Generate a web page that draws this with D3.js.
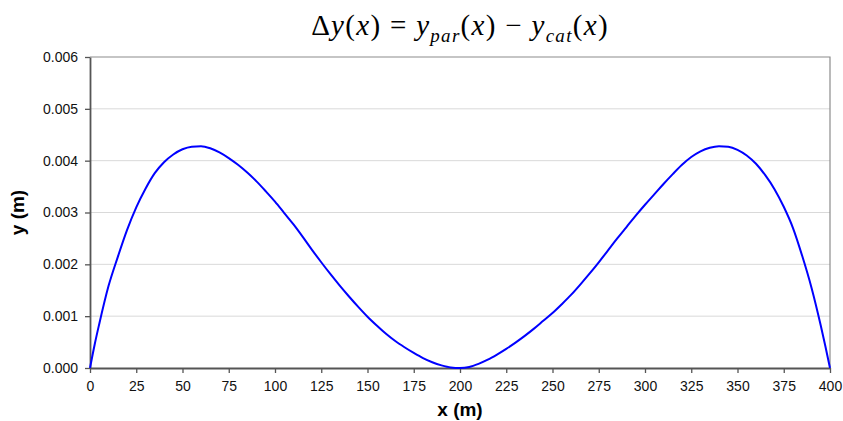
<!DOCTYPE html>
<html>
<head>
<meta charset="utf-8">
<script src="https://cdn.jsdelivr.net/npm/d3@7"></script>
<style>
  html, body { margin: 0; padding: 0; background: #fff; }
  svg { display: block; }
</style>
</head>
<body>
<svg id="chart" width="843" height="421"></svg>
<script>
// Distance along the span (m)
const xValues = [0, 2.5, 5, 10, 15, 20, 25, 30, 35, 40, 45, 50, 55, 60, 65, 70, 75, 80, 85, 90, 95,
  100, 105, 110, 115, 120, 125, 130, 135, 140, 145, 150, 155, 160, 165, 170, 175, 180, 185, 190, 195,
  200, 205, 210, 215, 220, 225, 230, 235, 240, 245, 250, 255, 260, 265, 270, 275, 280, 285, 290, 295,
  300, 305, 310, 315, 320, 325, 330, 335, 340, 345, 350, 355, 360, 365, 370, 375, 380, 385, 390, 395,
  397.5, 400];
// Difference parabola − catenary (m)
const dyValues = [0, 0.00045, 0.00085, 0.00158, 0.00214, 0.00266, 0.00310, 0.00346, 0.00376, 0.00397, 0.00412,
  0.00422, 0.00427, 0.00428, 0.00424, 0.00416, 0.00405, 0.00392, 0.00377, 0.00360, 0.00341,
  0.00321, 0.00299, 0.00277, 0.00253, 0.00228, 0.00204, 0.00181, 0.00159, 0.00138, 0.00118,
  0.00099, 0.00082, 0.00066, 0.00052, 0.00040, 0.00029, 0.00019, 0.00011, 0.00005, 0.00001,
  0.00000, 0.00002, 0.00008, 0.00016, 0.00026, 0.00037, 0.00049, 0.00062, 0.00076, 0.00091,
  0.00106, 0.00123, 0.00141, 0.00161, 0.00182, 0.00204, 0.00227, 0.00250, 0.00272, 0.00294,
  0.00315, 0.00335, 0.00355, 0.00374, 0.00392, 0.00407, 0.00418, 0.00425, 0.00428, 0.00427,
  0.00421, 0.00410, 0.00394, 0.00372, 0.00345, 0.00311, 0.00270, 0.00216, 0.00155, 0.00082,
  0.00042, 0];
const xTicks = d3.range(0, 401, 25);
const yTicks = [0, 0.001, 0.002, 0.003, 0.004, 0.005, 0.006];

const svg = d3.select("#chart");
const margin = { left: 90, right: 13, top: 57, bottom: 53 };
const W = 843, H = 421;

const x = d3.scaleLinear().domain([0, 400]).range([margin.left, W - margin.right]);
const y = d3.scaleLinear().domain([0, 0.006]).range([H - margin.bottom, margin.top]);

// horizontal gridlines
svg.append("g")
  .selectAll("line")
  .data(yTicks.slice(1, -1))
  .join("line")
  .attr("x1", x(0)).attr("x2", x(400))
  .attr("y1", d => y(d)).attr("y2", d => y(d))
  .attr("stroke", "#d9d9d9").attr("stroke-width", 1);

// plot frame: top and right edges
svg.append("path")
  .attr("d", `M${x(0)},${y(0.006)}H${x(400)}V${y(0)}`)
  .attr("fill", "none").attr("stroke", "#8c8c8c").attr("stroke-width", 1.2);

// axes
const xAxis = svg.append("g")
  .attr("transform", `translate(0,${y(0)})`)
  .call(d3.axisBottom(x).tickValues(xTicks).tickFormat(d3.format("d")).tickSize(5).tickSizeOuter(0));
const yAxis = svg.append("g")
  .attr("transform", `translate(${x(0)},0)`)
  .call(d3.axisLeft(y).tickValues(yTicks).tickFormat(d3.format(".3f")).tickSize(5).tickSizeOuter(0));

[xAxis, yAxis].forEach(g => {
  g.select(".domain").attr("stroke", "#555").attr("stroke-width", 1.8);
  g.selectAll(".tick line").attr("stroke", "#555").attr("stroke-width", 1.3);
  g.selectAll(".tick text")
    .attr("fill", "#111")
    .style("font-family", "'Liberation Sans', Arial, sans-serif")
    .style("font-size", "14px");
});
xAxis.selectAll(".tick text").attr("dy", "1em").attr("y", 9);
yAxis.selectAll(".tick text").attr("x", -12);

// curve
const line = d3.line()
  .x((d, i) => x(xValues[i]))
  .y(d => y(d))
  .curve(d3.curveMonotoneX);
svg.append("path")
  .datum(dyValues)
  .attr("d", line)
  .attr("fill", "none")
  .attr("stroke", "#0000ff")
  .attr("stroke-width", 2)
  .attr("stroke-linejoin", "round");

// axis titles
svg.append("text")
  .attr("x", (x(0) + x(400)) / 2).attr("y", 416)
  .attr("text-anchor", "middle")
  .style("font-family", "'Liberation Sans', Arial, sans-serif")
  .style("font-size", "19px").style("font-weight", "bold")
  .text("x (m)");
svg.append("text")
  .attr("transform", `translate(24,${(y(0) + y(0.006)) / 2}) rotate(-90)`)
  .attr("text-anchor", "middle")
  .style("font-family", "'Liberation Sans', Arial, sans-serif")
  .style("font-size", "19px").style("font-weight", "bold")
  .text("y (m)");

// equation title
const title = svg.append("text")
  .attr("x", 460).attr("y", 35)
  .attr("text-anchor", "middle")
  .attr("xml:space", "preserve")
  .style("white-space", "pre")
  .style("font-family", "'Liberation Serif', 'Times New Roman', serif")
  .style("font-size", "29px")
  .style("letter-spacing", "1.3px")
  .attr("fill", "#000");
const parts = [
  ["Δ", false, 0], ["y", true, 0], ["(", false, 0], ["x", true, 0], [") = ", false, 0],
  ["y", true, 0], ["par", true, 1], ["(", false, -1], ["x", true, 0], [") − ", false, 0],
  ["y", true, 0], ["cat", true, 1], ["(", false, -1], ["x", true, 0], [")", false, 0]
];
parts.forEach(([t, it, sub]) => {
  const ts = title.append("tspan").text(t);
  if (it) ts.style("font-style", "italic");
  if (sub === 1) ts.attr("dy", 7).style("font-size", "19px");
  if (sub === -1) ts.attr("dy", -7);
});
</script>
</body>
</html>
